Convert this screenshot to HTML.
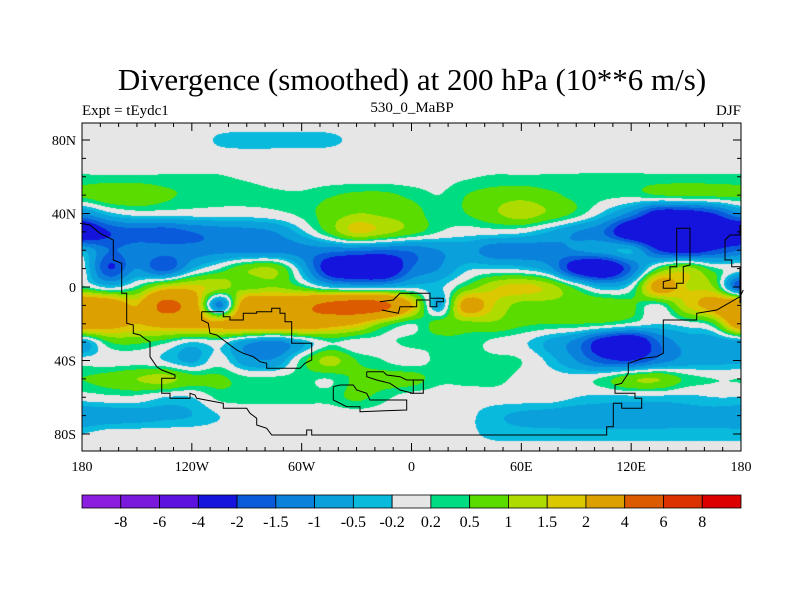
<!DOCTYPE html>
<html><head><meta charset="utf-8">
<style>
body{margin:0;background:#fff;}
#wrap{position:relative;width:800px;height:600px;background:#fff;overflow:hidden;font-family:"Liberation Serif",serif;}
#map{position:absolute;left:82px;top:123px;}
#ov{position:absolute;left:0;top:0;}
</style></head>
<body>
<div id="wrap">
<canvas id="map" width="659" height="328"></canvas>
<svg id="ov" width="800" height="600">
<text x="412" y="90" text-anchor="middle" font-size="31" font-family="Liberation Serif, serif">Divergence (smoothed) at 200 hPa (10**6 m/s)</text>
<text x="82" y="115" font-size="15" font-family="Liberation Serif, serif">Expt = tEydc1</text>
<text x="412" y="112" text-anchor="middle" font-size="15" font-family="Liberation Serif, serif">530_0_MaBP</text>
<text x="741" y="115" text-anchor="end" font-size="15" font-family="Liberation Serif, serif">DJF</text>
<g id="coast"></g>
<g id="axes"></g>
<g id="cbar"></g>
</svg>
</div>
<script>
const lons = [-180,-165,-150,-135,-120,-105,-90,-75,-60,-45,-30,-15,0,15,30,45,60,75,90,105,120,135,150,165,180];
const lats = [90,80,70,60,50,40,30,20,10,0,-10,-20,-30,-40,-50,-60,-70,-80,-90];
const row90  = [0,0,0,0,0,0,0,0,0,0,0,0,0,0,0,0,0,0,0,0,0,0,0,0,0];
const row80  = [0,0,0,0,0,-0.25,-0.32,-0.32,-0.32,-0.28,-0.1,0,0,0,0,0,0,0,0,0,0,0,0,0,0];
const row70  = [0,0,0,0,0,0,0,0,0,0,0,0,0,0,0,0,0,0,0,0,0,0,0,0,0];
const row60  = [0.24,0.24,0.24,0.24,0.24,0.22,0.15,0.05,0,0,0,0,0,0.05,0.15,0.24,0.24,0.24,0.24,0.24,0.24,0.24,0.24,0.24,0.24];
const row50  = [0.6,0.9,0.9,0.6,0.4,0.3,0.3,0.25,0.25,0.45,0.6,0.6,0.4,0.2,0.5,0.7,0.8,0.6,0.4,0.3,0.3,0.5,0.6,0.6,0.6];
const row40  = [-1.0,-0.3,0,0,0,0,0,0.1,0.3,0.7,1.0,0.9,0.7,0.3,0.5,0.9,1.3,0.9,0.4,-0.3,-1.2,-2.5,-2.5,-2,-1.0];
const row30  = [-3,-2,-1.7,-1.8,-1.5,-1.3,-1.2,-1.0,-0.3,0.6,1.6,1.2,0.7,0.2,0,0,-0.1,-0.5,-1.0,-1.5,-3,-3.5,-3.5,-3,-3];
const row20  = [-0.5,-1.5,-1.2,-1.3,-1.3,-1.2,-1.2,-1.2,-1.2,-1.3,-1.4,-1.5,-1.4,-1.0,-0.8,-1.3,-1.3,-1.2,-1.0,-0.7,-0.5,-2,-2.5,-2,-1.5];
const row10  = [0,-2,-1,-1.8,-0.5,0.2,0.9,1.0,-0.5,-2.5,-3,-3,-1.5,-1.0,-0.3,-0.2,-0.3,-0.8,-2.5,-3,-1.5,0.5,1.2,0.3,0];
const row0   = [0.3,-0.3,0.3,1.5,1.7,1.2,0.8,1.0,0.5,-0.3,-0.5,-0.5,-0.3,-0.3,0.6,1.4,1.7,1.3,0.3,-0.5,0,2.5,1.5,1.0,-2];
const rowS10 = [3.5,3,2,4.5,3,-1.2,3,3,3.5,4.5,5,4.5,2,-0.6,2.5,1.5,0.8,0.8,0.8,0.9,0.6,0.1,1.5,2.5,3.5];
const rowS20 = [3,2.5,2,2.5,2.5,2.2,3,3,3,2.5,2,0.8,0.2,0.7,0.8,0.9,0.6,0.5,0.5,0.4,0.1,-0.2,0,0.5,3];
const rowS30 = [-0.7,0.5,0.6,0.3,-0.2,0,-0.8,-1.2,-0.5,0.2,0,0.1,0.3,0.3,0.4,0.1,-0.1,-0.6,-1.2,-2.5,-3,-1.5,-0.8,-0.8,-0.7];
const rowS40 = [0,0,0,-0.2,-0.6,0,-0.8,-0.9,0.3,1.2,0.5,0.2,0,0.3,0.3,0.3,0.2,-0.3,-1,-1.8,-2,-1.3,-0.8,-0.7,-0.6];
const rowS50 = [0.5,0.7,1.0,1.2,0.7,0.6,0.3,0.3,0.3,0.2,0.6,0.7,0.7,0.3,0.3,0.3,0.1,0,0,0.3,0.9,1.0,0.4,0.2,0.2];
const rowS60 = [0,0.1,0.1,-0.2,-0.2,0.3,0.3,0.3,0.3,0.3,0.6,0.3,0,0,0,0,0,0,-0.2,-0.3,-0.3,-0.3,-0.3,-0.2,-0.2];
const rowS70 = [-0.9,-0.8,-0.7,-0.6,-0.5,-0.2,0,0,0,0,0,0,0,0,-0.1,-0.4,-0.6,-0.7,-0.8,-0.8,-0.8,-0.8,-0.7,-0.7,-0.8];
const rowS80 = [-0.2,0,0,0,0,0,0,0,0,0,0,0,0,0,-0.1,-0.3,-0.35,-0.35,-0.35,-0.35,-0.35,-0.35,-0.35,-0.35,-0.35];
const rowS90 = [0,0,0,0,0,0,0,0,0,0,0,0,0,0,0,0,0,0,0,0,0,0,0,0,0];
const grid = [row90,row80,row70,row60,row50,row40,row30,row20,row10,row0,rowS10,rowS20,rowS30,rowS40,rowS50,rowS60,rowS70,rowS80,rowS90];
const levels = [-8,-6,-4,-2,-1.5,-1,-0.5,-0.2,0.2,0.5,1,1.5,2,4,6,8];
const levelLabels = ["-8","-6","-4","-2","-1.5","-1","-0.5","-0.2","0.2","0.5","1","1.5","2","4","6","8"];
const colors = ["#8c1ee0","#7a18dc","#5e12e0","#1414dc","#0a5adc","#0a82dc","#0aa0dc","#0abadc","#e6e6e6","#00dc82","#5adc00","#afdc00","#dcc800","#dca000","#dc5a00","#dc3200","#dc0000"];
const lonTicks = [-180,-120,-60,0,60,120,180];
const lonTickLabels = ["180","120W","60W","0","60E","120E","180"];
const latTicks = [80,40,0,-40,-80];
const latTickLabels = ["80N","40N","0","40S","80S"];

const X0=82,X1=741,Y0=123,Y1=451;
const xOf = lon => X0 + (lon+180)/360*(X1-X0);
const yOf = lat => 287 - lat*1.8375;
const lonOf = px => (px - X0)/(X1-X0)*360 - 180;
const latOf = py => (287 - py)/1.8375;

function cr(p0,p1,p2,p3,t){return 0.5*((2*p1)+(-p0+p2)*t+(2*p0-5*p1+4*p2-p3)*t*t+(-p0+3*p1-3*p2+p3)*t*t*t);}
function g(i,j){i=Math.max(0,Math.min(lats.length-1,i));j=Math.max(0,Math.min(lons.length-1,j));return grid[i][j];}
function sample(lon,lat){
  const fj=(lon-lons[0])/15, fi=(lats[0]-lat)/10;
  const j=Math.floor(fj), i=Math.floor(fi), tx=fj-j, ty=fi-i;
  const r=[];
  for(let k=-1;k<=2;k++) r.push(cr(g(i+k,j-1),g(i+k,j),g(i+k,j+1),g(i+k,j+2),tx));
  return cr(r[0],r[1],r[2],r[3],ty);
}
function hex(c){return [parseInt(c.substr(1,2),16),parseInt(c.substr(3,2),16),parseInt(c.substr(5,2),16)];}
const rgb = colors.map(hex);
(function(){
  const cv=document.getElementById('map'),ctx=cv.getContext('2d');
  const W=cv.width,H=cv.height,img=ctx.createImageData(W,H);
  for(let y=0;y<H;y++){
    const lat=latOf(Y0+y+0.5);
    for(let x=0;x<W;x++){
      const v=sample(lonOf(X0+x+0.5),lat);
      let k=0; while(k<levels.length && v>=levels[k]) k++;
      const c=rgb[k],o=(y*W+x)*4;
      img.data[o]=c[0];img.data[o+1]=c[1];img.data[o+2]=c[2];img.data[o+3]=255;
    }
  }
  ctx.putImageData(img,0,0);
})();

const NS='http://www.w3.org/2000/svg';
function mk(tag,attrs,parent){const e=document.createElementNS(NS,tag);for(const k in attrs)e.setAttribute(k,attrs[k]);parent.appendChild(e);return e;}

const coastA1=[[0,310],[30,315],[60,340],[100,360],[100,420],[125,430],[125,520],[140,520],[140,610],[160,615],[160,640],[180,645],[200,660],[210,665],[210,710],[230,740],[245,750],[285,765],[285,775],[245,775],[245,820],[270,820],[270,835],[330,835],[330,820],[345,825],[350,835],[430,850],[430,865],[500,865],[510,880],[530,895],[530,915],[560,925],[575,945],[680,945],[680,930],[695,930],[695,945],[1005,945]];
const coastA2=[[0,945],[590,945],[590,920],[610,920],[610,850],[635,850],[635,865],[695,865],[695,835],[675,835],[675,820],[615,820],[615,795],[635,790],[655,760],[655,730],[700,715],[740,710],[760,700],[760,600],[780,600],[860,600],[860,580],[920,570],[990,530],[1000,510]];
const coastB=[[365,575],[430,575],[430,590],[450,590],[450,600],[490,600],[490,580],[530,580],[530,575],[575,575],[575,565],[600,565],[600,580],[615,580],[615,605],[635,605],[635,670],[695,670],[695,720],[675,730],[660,745],[560,745],[560,730],[540,725],[520,710],[490,700],[470,690],[450,675],[430,660],[410,645],[390,640],[385,610],[365,600],[365,575]];
const coastC=[[900,545],[940,540],[960,520],[1000,520]];
const coastD=[[905,570],[955,580],[960,560],[1000,560]];
const coastE=[[760,800],[780,795],[820,795],[830,810],[860,820],[870,840],[980,840],[980,870],[840,875],[840,860],[800,860],[760,840],[760,800]];
const coastF=[[860,755],[910,755],[920,765],[960,770],[980,780],[1000,780],[1000,820],[960,810],[930,790],[890,780],[860,770],[860,755]];
const coastG=[[0,780],[40,780],[40,820],[0,820]];
const coastH=[[800,325],[840,325],[840,435],[820,440],[820,490],[800,490],[800,505],[760,505],[760,485],[780,480],[780,440],[800,440],[800,325]];
const coastI=[[990,315],[990,345],[960,345],[945,360],[945,420],[965,420],[965,440],[990,440],[990,550]];
const coastJ=[[0,520],[60,520],[60,535],[100,535],[100,545],[80,545],[80,560],[60,560],[60,540],[20,540],[20,560],[0,560]];
const cg=document.getElementById('coast');
[[coastA1,80],[coastB,80],[coastC,80],[coastD,80],[coastE,80],[coastF,80],[coastA2,410],[coastG,410],[coastH,410],[coastI,410],[coastJ,410]].forEach(([pts,off])=>{
  const p=mk('polyline',{points:pts.map(q=>(off+q[0]/3).toFixed(1)+','+(120+q[1]/3).toFixed(1)).join(' '),fill:'none',stroke:'#000','stroke-width':1},cg);
  
  
});

const ax=document.getElementById('axes');
const frame=mk('rect',{x:X0,y:Y0,width:X1-X0,height:Y1-Y0,fill:'none',stroke:'#000','stroke-width':1},ax);


for(let lon=-180;lon<=180;lon+=10){
  const x=xOf(lon),len=(lon%60===0)?8:4;
  mk('line',{x1:x,y1:Y1,x2:x,y2:Y1-len,stroke:'#000'},ax);
  mk('line',{x1:x,y1:Y0,x2:x,y2:Y0+len,stroke:'#000'},ax);
}
for(let lat=-80;lat<=80;lat+=10){
  const y=yOf(lat),len=(lat%40===0)?8:4;
  mk('line',{x1:X0,y1:y,x2:X0+len,y2:y,stroke:'#000'},ax);
  mk('line',{x1:X1,y1:y,x2:X1-len,y2:y,stroke:'#000'},ax);
}
lonTicks.forEach((lon,i)=>{
  const t=mk('text',{x:xOf(lon),y:471,'text-anchor':'middle','font-size':14,'font-family':'Liberation Serif, serif'},ax);
  t.textContent=lonTickLabels[i];
  
  
});
latTicks.forEach((lat,i)=>{
  const t=mk('text',{x:76,y:yOf(lat)+5,'text-anchor':'end','font-size':14,'font-family':'Liberation Serif, serif'},ax);
  t.textContent=latTickLabels[i];
  
  
});

const cb=document.getElementById('cbar');
const bw=(X1-X0)/colors.length;
colors.forEach((c,i)=>{
  const r=mk('rect',{x:X0+i*bw,y:495,width:bw,height:13,fill:c,stroke:'#000','stroke-width':0.8},cb);
  
  
});
levelLabels.forEach((s,i)=>{
  const t=mk('text',{x:X0+(i+1)*bw,y:527,'text-anchor':'middle','font-size':16,'font-family':'Liberation Serif, serif'},cb);
  t.textContent=s;
  
  
});
</script>
</body></html>
